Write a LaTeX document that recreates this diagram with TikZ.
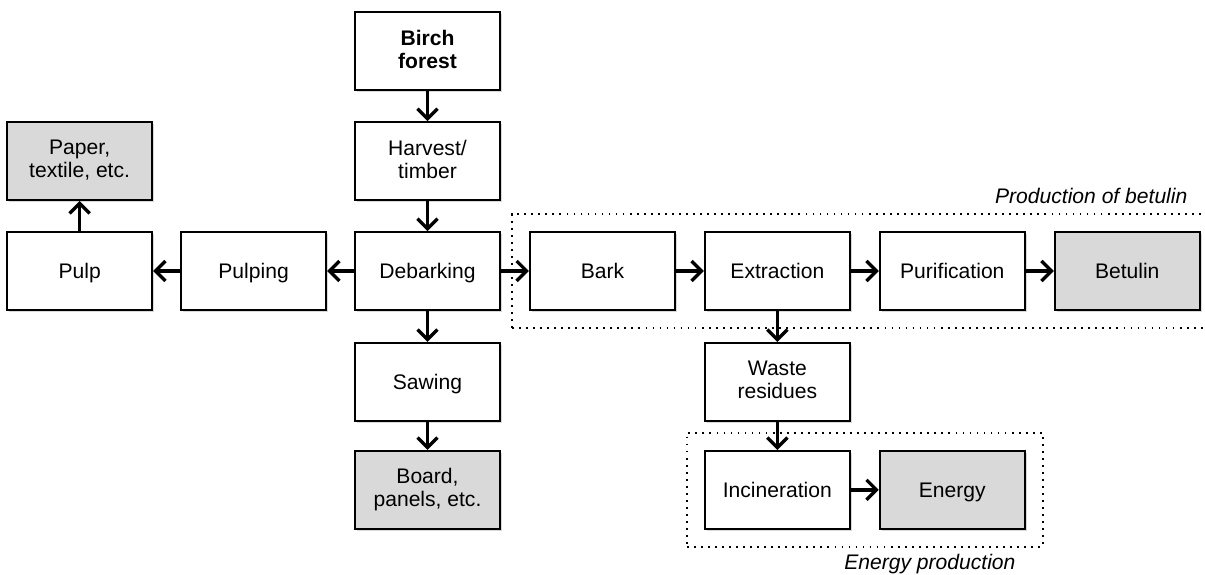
\documentclass[tikz,border=0pt]{standalone}
\usepackage{fontspec}
\setmainfont{Liberation Sans}
\usetikzlibrary{arrows.meta,positioning,fit,calc,shadows}

\newcommand{\boxstrut}{\rule[-2.4pt]{0pt}{13.4pt}}

\begin{document}
\begin{tikzpicture}[
    node distance=0.6cm and 0.56cm,
    stage/.style={rectangle, draw, fill=white, line width=1.1pt, minimum width=2.9cm, minimum height=1.56cm, align=center,
        font=\fontsize{12}{13}\selectfont, execute at begin node=\boxstrut, execute at end node=\boxstrut,
        drop shadow={opacity=0.3, shadow xshift=0.04cm, shadow yshift=-0.04cm}},
    product/.style={stage, fill=gray!30},
    group/.style={draw, dash pattern=on 1pt off 3pt, line width=1pt, inner sep=0.34cm},
    grouplabel/.style={font=\fontsize{12}{13}\selectfont\itshape},
    arrow/.style={-{Straight Barb[length=2mm, width=4mm]}, line width=1.9pt}
]
\useasboundingbox (0,0) rectangle (24.1,-11.5);

\node[stage] (debark) at (8.55,-5.42) {Debarking};
\node[stage, above=of debark] (harvest) {Harvest/\\timber};
\node[stage, above=of harvest] (forest) {\textbf{Birch}\\\textbf{forest}};
\node[stage, below=0.62cm of debark] (saw) {Sawing};
\node[product, below=0.56cm of saw] (board) {Board,\\panels, etc.};

\node[stage, left=0.54cm of debark] (pulping) {Pulping};
\node[stage, left=0.54cm of pulping] (pulp) {Pulp};
\node[product, above=of pulp] (paper) {Paper,\\textile, etc.};

\node[stage, right=of debark] (bark) {Bark};
\node[stage, right=of bark] (extr) {Extraction};
\node[stage, right=of extr] (purif) {Purification};
\node[product, right=of purif] (betulin) {Betulin};

\node[stage, below=0.62cm of extr] (waste) {Waste\\residues};
\node[stage, below=0.56cm of waste] (incin) {Incineration};
\node[product, right=of incin] (energy) {Energy};

% dotted groups
\node[group, fit=(bark)(betulin)] (prod) {};
\node[group, fit=(incin)(energy)] (enprod) {};
\node[grouplabel, anchor=south east] (prodlabel) at ($(prod.north east)+(-0.5,0.06)$) {Production of betulin};
\node[grouplabel, below left=0cm and 0.44cm of enprod.south east] (enlabel) {Energy production};

\draw[arrow] (forest) -- (harvest);
\draw[arrow] (harvest) -- (debark);
\draw[arrow] (debark) -- (saw);
\draw[arrow] (saw) -- (board);
\draw[arrow] (debark) -- (pulping);
\draw[arrow] (pulping) -- (pulp);
\draw[arrow] (pulp) -- (paper);
\draw[arrow] (debark) -- (bark);
\draw[arrow] (bark) -- (extr);
\draw[arrow] (extr) -- (purif);
\draw[arrow] (purif) -- (betulin);
\draw[arrow] (extr) -- (waste);
\draw[arrow] (waste) -- (incin);
\draw[arrow] (incin) -- (energy);
\end{tikzpicture}
\end{document}
